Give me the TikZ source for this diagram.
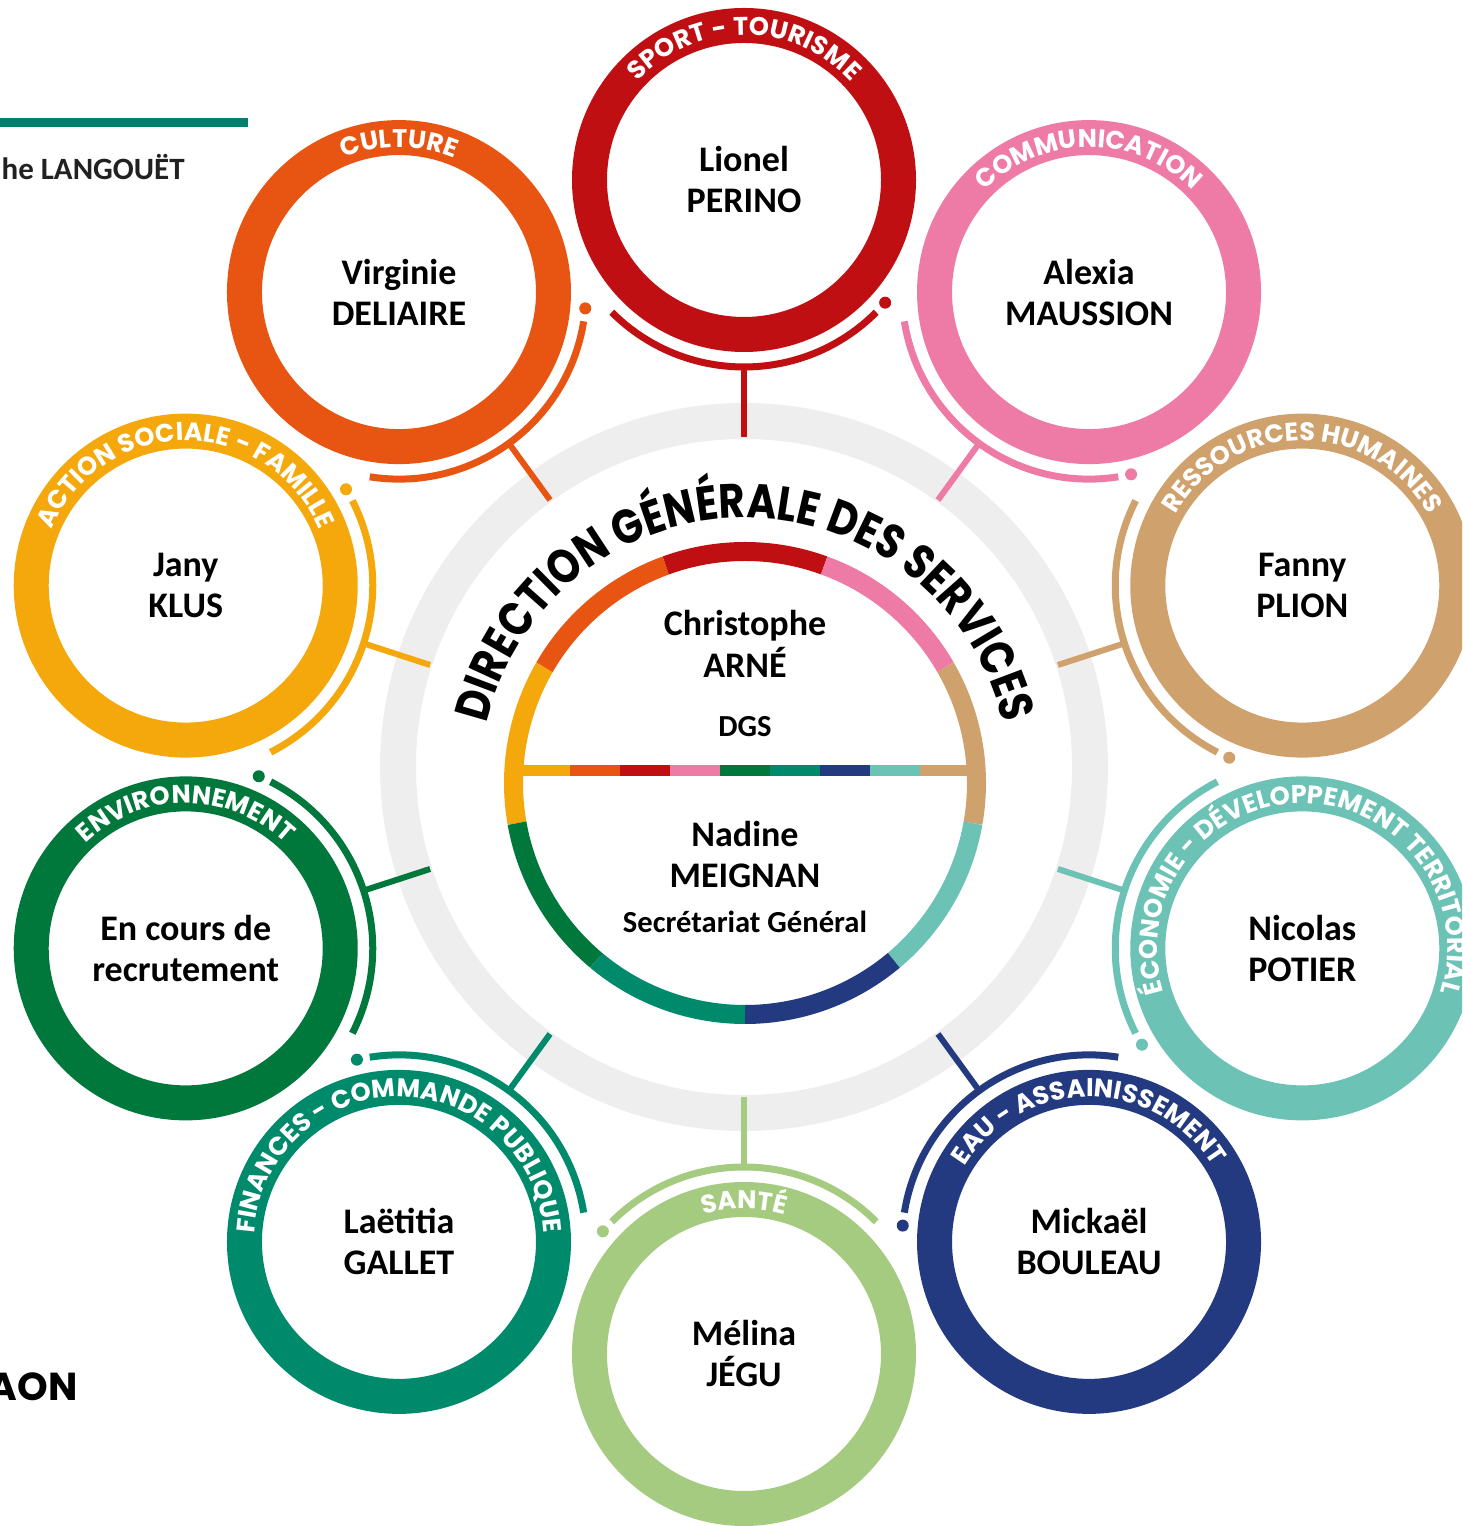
\documentclass[tikz,border=0pt]{standalone}
\usepackage{fontspec}
\setmainfont{Carlito}
\newfontfamily\geofont{Poppins}
\newfontfamily\titlefont{Poppins}[FakeStretch=0.84]
\usetikzlibrary{calc,decorations.text}

\definecolor{sport}{HTML}{C00F12}
\definecolor{culture}{HTML}{E85412}
\definecolor{comm}{HTML}{EE7BA5}
\definecolor{social}{HTML}{F5A80C}
\definecolor{rh}{HTML}{CFA16D}
\definecolor{envir}{HTML}{00773B}
\definecolor{eco}{HTML}{6CC2B5}
\definecolor{finance}{HTML}{008A6C}
\definecolor{eau}{HTML}{233A80}
\definecolor{sante}{HTML}{A5CB80}
\definecolor{ringgray}{HTML}{EEEEEE}
\definecolor{topbar}{HTML}{00806A}

\newcommand\tagfont{\geofont\bfseries\fontsize{12.8}{13}\selectfont\color{white}}

\begin{document}
\begin{tikzpicture}[x=0.5pt,y=0.5pt,
    pole/.style={circle,draw=#1,line width=17.5pt,minimum size=154.5pt,inner sep=0pt,
        align=center,font=\bfseries\fontsize{18}{20.5}\selectfont},
    spoke/.style={#1,line width=3pt},
    hook/.style={#1,line width=3.5pt},
    who/.style={align=center,font=\bfseries\fontsize{18}{21}\selectfont},
    role/.style={font=\bfseries\fontsize{15.3}{17}\selectfont}
    ]
    \useasboundingbox (0,0) rectangle (1462,1526);
    \clip (0,0) rectangle (1462,1526);
    \coordinate (hub) at (744,759);
    \coordinate (dgs) at (745,743);
    \draw[ringgray,line width=18pt] (hub) circle[radius=346];

    \foreach \i/\col/\lab/\name in {
        0/sport/{|\tagfont|SPORT - TOURISME}/{Lionel\\PERINO},
        1/comm/{|\tagfont|COMMUNICATION}/{Alexia\\MAUSSION},
        2/rh/{|\tagfont|RESSOURCES HUMAINES}/{Fanny\\PLION},
        3/eco/{|\tagfont|ÉCONOMIE - DÉVELOPPEMENT TERRITORIAL}/{Nicolas\\POTIER},
        4/eau/{|\tagfont|EAU - ASSAINISSEMENT}/{Mickaël\\BOULEAU},
        5/sante/{|\tagfont|SANTÉ}/{Mélina\\JÉGU},
        6/finance/{|\tagfont|FINANCES - COMMANDE PUBLIQUE}/{Laëtitia\\GALLET},
        7/envir/{|\tagfont|ENVIRONNEMENT}/{En cours de\\recrutement},
        8/social/{|\tagfont|ACTION SOCIALE - FAMILLE}/{Jany\\KLUS},
        9/culture/{|\tagfont|CULTURE}/{Virginie\\DELIAIRE}}{
        \pgfmathsetmacro\a{90-36*\i}
        \pgfmathsetmacro\b{\a+135}
        \pgfmathsetmacro\e{\a+225}
        \node[pole=\col] (sat\i) at ($(hub)+(\a:587)$) {\name};
        \coordinate (in\i) at ($(hub)+(\a:330)$);
        \coordinate (out\i) at ($(hub)+(\a:400)$);
        \draw[spoke=\col] (in\i) -- (out\i);
        \draw[hook=\col] ($(sat\i.center)+(\b:187)$) arc[start angle=\b,end angle=\e,radius=187];
        \fill[\col] ($(sat\i.center)+(\a+229:187)$) circle[radius=6];
        \path[decorate,decoration={text along path,text align=center,text/.expand once=\lab}]
            ($(sat\i.center)+(270:145)$) arc[start angle=270,end angle=-90,radius=145];
    }

    \foreach \c [count=\k from 0] in {social,culture,sport,comm,envir,finance,eau,eco,rh}
        \fill[\c] (520+50*\k,750) rectangle ++(50,11);
    \foreach \c [count=\k from 0] in {social,culture,sport,comm,rh,eco,eau,finance,envir}{
        \pgfmathsetmacro\b{190-40*\k}
        \pgfmathsetmacro\e{150-40*\k}
        \draw[\c,line width=9.5pt] ($(dgs)+(\b:231.5)$) arc[start angle=\b,end angle=\e,radius=231.5];
    }
    \path[decorate,decoration={text along path,text align=center,
        text={|\titlefont\bfseries\fontsize{24}{24}\selectfont|DIRECTION GÉNÉRALE DES SERVICES}}]
        ($(dgs)+(270:265)$) arc[start angle=270,end angle=-90,radius=265];

    \node[who] (dg) at (745,882) {Christophe\\ARNÉ};
    \node[role] (dgl) at (745,799) {DGS};
    \node[who] (sg) at (745,671.5) {Nadine\\MEIGNAN};
    \node[role] (sgl) at (745,604) {Secrétariat Général};

    \fill[topbar] (0,1399) rectangle (248,1408);
    \node[anchor=base east,inner sep=0pt,text=black!87,font=\bfseries\fontsize{15.5}{18}\selectfont] (town) at (185,1346) {he LANGOUËT};
    \node[anchor=base east,inner sep=0pt,font=\geofont\bfseries\fontsize{19.5}{22}\selectfont] (aon) at (78,125) {AON};
\end{tikzpicture}
\end{document}
